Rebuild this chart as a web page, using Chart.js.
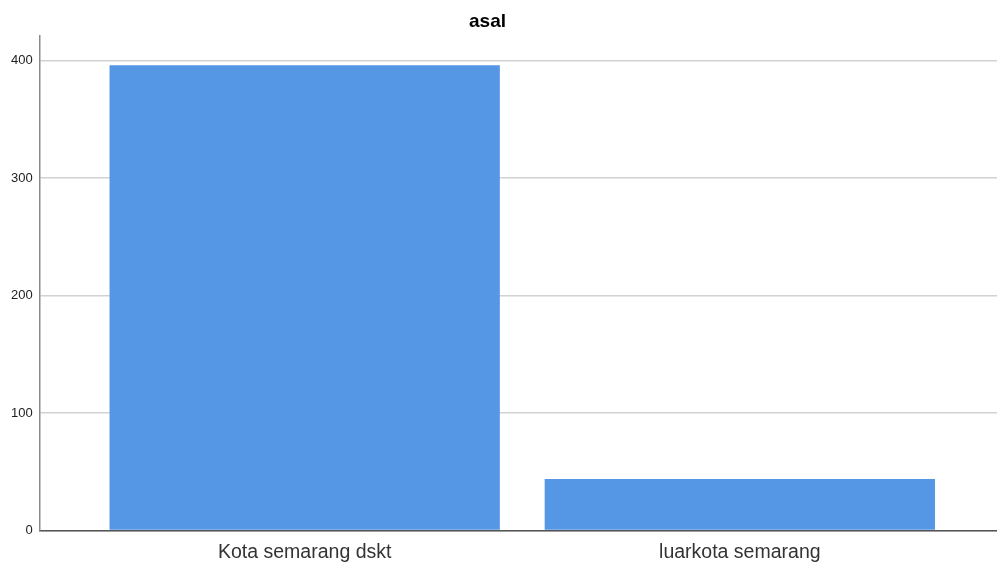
<!DOCTYPE html>
<html>
<head>
<meta charset="utf-8">
<script src="https://cdn.jsdelivr.net/npm/chart.js@4"></script>
<style>
    html, body { margin: 0; padding: 0; background: #fff; }
    #wrap { width: 997px; height: 563px; }
</style>
</head>
<body>
<div id="wrap"><canvas id="chart"></canvas></div>
<script>
const categories = ["Kota semarang dskt", "luarkota semarang"];
const counts = [396, 44];
const yTicks = [0, 100, 200, 300, 400];
const yMax = 421;

// bars sit on index positions of a linear x axis, so the outer margins can match the picture
let points = counts.map((v, i) => ({ x: i, y: v }));

// the title in the picture is a little left of the canvas centre
const titleShift = {
    id: 'titleShift',
    afterLayout(chart) {
        if (chart.titleBlock) chart.titleBlock.right -= 26;
    }
};

new Chart(document.getElementById("chart"), {
    type: 'bar',
    data: {
        datasets: [{
            label: "asal",
            data: points,
            backgroundColor: '#5596e5',
            borderWidth: 0,
            categoryPercentage: 1,
            barPercentage: 0.897
        }]
    },
    options: {
        responsive: true,
        maintainAspectRatio: false,
        animation: false,
        layout: { padding: { left: 4, right: 0, top: 0, bottom: -11 } },
        plugins: {
            legend: { display: false },
            tooltip: { enabled: false },
            title: {
                display: true,
                text: "asal",
                color: '#000',
                font: { family: "Liberation Sans", size: 19, weight: 'bold' },
                padding: { top: 10, bottom: 3 }
            }
        },
        scales: {
            x: {
                type: 'linear',
                offset: false,
                min: -0.609,
                max: 1.591,
                afterBuildTicks: (scale) => {
                    scale.ticks = categories.map((c, i) => ({ value: i }));
                },
                ticks: {
                    autoSkip: false,
                    maxRotation: 0,
                    padding: 10,
                    color: '#333',
                    font: { family: "Liberation Sans", size: 19.5 },
                    callback: (value) => categories[value]
                },
                grid: { display: false, drawTicks: false, tickLength: 0, offset: false },
                border: { display: true, color: '#555', width: 1.5 }
            },
            y: {
                min: 0,
                max: yMax,
                afterBuildTicks: (scale) => {
                    scale.ticks = yTicks.map(v => ({ value: v }));
                },
                ticks: {
                    padding: 7,
                    color: '#222',
                    font: { family: "Liberation Sans", size: 13 }
                },
                grid: { color: '#d2d2d2', lineWidth: 1.5, drawTicks: false, tickLength: 0 },
                border: { display: true, color: '#8a8a8a', width: 1.5 }
            }
        }
    },
    plugins: [titleShift]
});
</script>
</body>
</html>
